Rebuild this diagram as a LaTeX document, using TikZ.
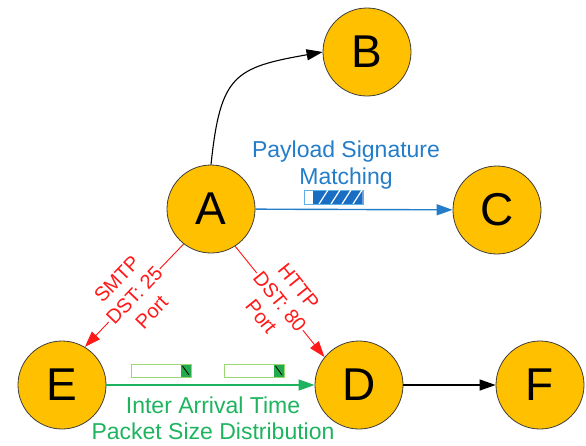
\documentclass[tikz,border=0pt]{standalone}
\usepackage{fontspec}
\setmainfont{Liberation Sans}
\usetikzlibrary{arrows.meta}

\definecolor{nodefill}{RGB}{255,192,0}
\definecolor{nodeline}{RGB}{60,60,60}
\definecolor{pblue}{RGB}{35,125,200}
\definecolor{barblue}{RGB}{25,110,195}
\definecolor{barblueedge}{RGB}{95,175,232}
\definecolor{pgreen}{RGB}{30,180,95}
\definecolor{bargreen}{RGB}{35,170,75}
\definecolor{bargreenedge}{RGB}{155,215,115}
\definecolor{pred}{RGB}{255,25,25}

\tikzset{
  state/.style={circle, fill=nodefill, draw=nodeline, line width=0.8pt,
    minimum size=88pt, inner sep=0pt, font=\fontsize{46}{46}\selectfont},
  tip/.style={-{Triangle[length=16pt,width=11pt]}},
  blackarrow/.style={tip, draw=black, line width=1.1pt},
  bluearrow/.style={tip, draw=pblue, fill=pblue, line width=1.4pt},
  greenarrow/.style={tip, draw=pgreen, fill=pgreen, line width=1.4pt},
  redarrow/.style={tip, draw=pred, fill=pred, line width=0.9pt},
  redlabel/.style={sloped, fill=white, align=center, text=pred, inner sep=1pt,
    font=\fontsize{20}{24}\selectfont},
  biglabel/.style={align=center, font=\fontsize{23}{26.5}\selectfont},
}

\begin{document}
\begin{tikzpicture}[x=1pt,y=-1pt]
\useasboundingbox (0,0) rectangle (586,445);

% states
\node[state] (A) at (211,209) {A};
\node[state] (B) at (367,52)  {B};
\node[state] (C) at (497,210) {C};
\node[state] (D) at (359,385) {D};
\node[state] (E) at (62,385)  {E};
\node[state] (F) at (540,385) {F};

% A -> B
\draw[blackarrow] (A.north) to[out=84, in=190, looseness=1.45] (B.west);

% A -> C with signature matching
\draw[bluearrow] (A) -- (C);
\node[biglabel, text=pblue] (sig) at (346,165) {Payload Signature\\Matching};
\draw[barblueedge, line width=1pt, fill=white] (304,190) rectangle (363,204);
\begin{scope}
  \clip (313,190.5) rectangle (362.5,203.5);
  \fill[barblue] (313,190.5) rectangle (362.5,203.5);
  \foreach \sx in {319,331,342,353}
    \draw[white, line width=1.2pt] (\sx,204) -- (\sx+9,190);
\end{scope}

% ports
\draw[redarrow] (A.232) -- node[redlabel] (smtp) {SMTP\\DST: 25\\Port} (E.59);
\draw[redarrow] (A.303) -- node[redlabel] (http) {HTTP\\DST: 80\\Port} (D.141);

% E -> D with timing and size
\draw[greenarrow] (E) -- (D);
\foreach \bx in {0,93}{
  \draw[bargreenedge, line width=1pt, fill=white] (131+\bx,364) rectangle (191+\bx,377);
  \fill[bargreen] (181+\bx,364.5) rectangle (190.5+\bx,376.5);
  \draw[black, line width=0.8pt] (182.5+\bx,366) -- (189+\bx,375);
}
\node[biglabel, text=pgreen] (stats) at (213,418.5) {Inter Arrival Time\\Packet Size Distribution};

% D -> F
\draw[blackarrow] (D) -- (F);
\end{tikzpicture}
\end{document}
